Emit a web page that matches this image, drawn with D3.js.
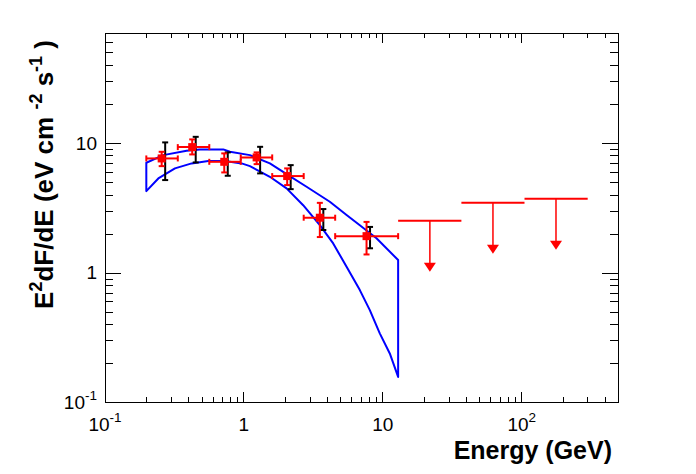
<!DOCTYPE html>
<html><head><meta charset="utf-8">
<script src="https://cdn.jsdelivr.net/npm/d3@7"></script>
<style>
body{margin:0;background:#fff;}
svg{display:block;}
text{font-family:"Liberation Sans",Arial,Helvetica,sans-serif;}
</style></head><body>
<svg id="chart" width="696" height="474"></svg>
<script>
// ---- data ----
const binLo  = [0.2, 0.337, 0.568, 0.957, 1.612, 2.717, 4.578];
const binHi  = [0.337, 0.568, 0.957, 1.612, 2.717, 4.578, 13.0];
const energy = [0.258, 0.428, 0.728, 1.245, 2.066, 3.55, 7.70];
const flux   = [7.59, 9.28, 7.15, 7.73, 5.55, 2.65, 1.91];
const statLo = [6.62, 8.15, 5.92, 6.86, 4.73, 1.88, 1.38];
const statHi = [8.54, 10.64, 8.30, 8.45, 6.36, 3.45, 2.46];
const sysLo  = [5.17, 7.07, 5.58, 5.82, 4.40, 2.13, 1.54];
const sysHi  = [10.09, 11.14, 8.45, 9.33, 6.74, 3.09, 2.25];
const ulLo     = [13.0, 37.1, 105.6];
const ulHi     = [37.1, 105.6, 301];
const ulEnergy = [22.0, 62.6, 178];
const ulFlux   = [2.51, 3.45, 3.71];
const bandUpperE = [0.2,0.265,0.390,0.486,0.716,0.800,1.114,1.551,2.101,2.849,4.19,5.53,6.89,9.08,13.0];
const bandUpperF = [7.03,8.05,8.69,8.91,8.91,8.54,8.05,6.95,5.65,4.59,3.52,2.78,2.32,1.84,1.25];
const bandLowerE = [0.2,0.244,0.3215,0.424,0.558,0.736,0.971,1.114,1.551,2.046,2.693,3.55,4.43,5.53,6.89,8.13,9.59,11.32,13.0];
const bandLowerF = [4.25,5.32,6.36,6.95,7.24,7.24,6.95,6.62,5.48,4.46,3.31,2.32,1.68,1.108,0.733,0.514,0.340,0.238,0.157];
const xTickValues = [0.1, 1, 10, 100];
const xTickLabels = ["10^-1", "1", "10", "10^2"];
const yTickValues = [0.1, 1, 10];
const yTickLabels = ["10^-1", "1", "10"];
const xMinor = [0.2,0.3,0.4,0.5,0.6,0.7,0.8,0.9,2,3,4,5,6,7,8,9,20,30,40,50,60,70,80,90,200,300,400];
const yMinor = [0.2,0.3,0.4,0.5,0.6,0.7,0.8,0.9,2,3,4,5,6,7,8,9,20,30,40,50,60];
const xTitle = "Energy (GeV)";

// ---- layout ----
const L = 104.5, R = 618.3, T = 33.3, B = 402.3;
const svg = d3.select("#chart");
const x = d3.scaleLog().domain([0.1, 500]).range([L, R]);
const y = d3.scaleLog().domain([0.1, 70]).range([B, T]);

function supLabel(sel, labels, vals) {
  sel.selectAll(".tick text").each(function(d) {
    const i = vals.indexOf(d);
    const t = d3.select(this);
    t.text(null);
    if (i < 0) return;
    const parts = labels[i].split("^");
    t.append("tspan").text(parts[0]);
    if (parts[1]) t.append("tspan").attr("font-size", "13.5px").attr("dy", "-9").text(parts[1]);
  });
}
function styleAxis(g) {
  g.selectAll("path,line").attr("stroke", "#000").attr("stroke-width", 1).attr("shape-rendering", "crispEdges");
  g.selectAll("text").attr("font-size", "19px").attr("fill", "#000").attr("font-family", '"Liberation Sans",Arial,sans-serif');
}
// bottom
const gB = svg.append("g").attr("transform", `translate(0,${B})`)
  .call(d3.axisBottom(x).tickValues(xTickValues).tickSizeInner(-10).tickSizeOuter(0).tickPadding(15.5));
styleAxis(gB); supLabel(gB, xTickLabels, xTickValues);
const gBm = svg.append("g").attr("transform", `translate(0,${B})`)
  .call(d3.axisBottom(x).tickValues(xMinor).tickSizeInner(-5).tickSizeOuter(0).tickFormat(""));
styleAxis(gBm);
// top
const gT = svg.append("g").attr("transform", `translate(0,${T})`)
  .call(d3.axisTop(x).tickValues(xTickValues).tickSizeInner(-10).tickSizeOuter(0).tickFormat(""));
styleAxis(gT);
const gTm = svg.append("g").attr("transform", `translate(0,${T})`)
  .call(d3.axisTop(x).tickValues(xMinor).tickSizeInner(-5).tickSizeOuter(0).tickFormat(""));
styleAxis(gTm);
// left
const gL = svg.append("g").attr("transform", `translate(${L},0)`)
  .call(d3.axisLeft(y).tickValues(yTickValues).tickSizeInner(-16.5).tickSizeOuter(0).tickPadding(7.5));
styleAxis(gL); supLabel(gL, yTickLabels, yTickValues);
const gLm = svg.append("g").attr("transform", `translate(${L},0)`)
  .call(d3.axisLeft(y).tickValues(yMinor).tickSizeInner(-8.5).tickSizeOuter(0).tickFormat(""));
styleAxis(gLm);
// right
const gR = svg.append("g").attr("transform", `translate(${R},0)`)
  .call(d3.axisRight(y).tickValues(yTickValues).tickSizeInner(-16.5).tickSizeOuter(0).tickFormat(""));
styleAxis(gR);
const gRm = svg.append("g").attr("transform", `translate(${R},0)`)
  .call(d3.axisRight(y).tickValues(yMinor).tickSizeInner(-8.5).tickSizeOuter(0).tickFormat(""));
styleAxis(gRm);

// ---- butterfly band ----
const bandPts = bandUpperE.map((e, i) => [e, bandUpperF[i]])
  .concat(bandLowerE.map((e, i) => [e, bandLowerF[i]]).reverse());
svg.append("path")
  .attr("d", d3.line().x(d => x(d[0])).y(d => y(d[1]))(bandPts) + "Z")
  .attr("fill", "none").attr("stroke", "#0000ff").attr("stroke-width", 2).attr("stroke-linejoin", "round");

// ---- systematic (black) error bars ----
const gSys = svg.append("g").attr("stroke", "#000").attr("stroke-width", 2);
energy.forEach((e, i) => {
  const cx = x(e) + 3.5;
  gSys.append("line").attr("x1", cx).attr("x2", cx).attr("y1", y(sysHi[i])).attr("y2", y(sysLo[i]));
  [sysHi[i], sysLo[i]].forEach(v => gSys.append("line").attr("x1", cx - 3).attr("x2", cx + 3).attr("y1", y(v)).attr("y2", y(v)));
});

// ---- statistical (red) points ----
const red = "#ff0000";
const gSt = svg.append("g").attr("stroke", red).attr("stroke-width", 2);
energy.forEach((e, i) => {
  const cx = x(e), cy = y(flux[i]);
  gSt.append("line").attr("x1", x(binLo[i])).attr("x2", x(binHi[i])).attr("y1", cy).attr("y2", cy);
  [binLo[i], binHi[i]].forEach(v => gSt.append("line").attr("x1", x(v)).attr("x2", x(v)).attr("y1", cy - 3).attr("y2", cy + 3));
  gSt.append("line").attr("x1", cx).attr("x2", cx).attr("y1", y(statHi[i])).attr("y2", y(statLo[i]));
  [statHi[i], statLo[i]].forEach(v => gSt.append("line").attr("x1", cx - 3).attr("x2", cx + 3).attr("y1", y(v)).attr("y2", y(v)));
  svg.append("rect").attr("x", cx - 4).attr("y", cy - 4).attr("width", 8).attr("height", 8).attr("fill", red);
});

// ---- upper limits ----
const gUL = svg.append("g");
ulFlux.forEach((f, i) => {
  const cy = y(f), cx = x(ulEnergy[i]);
  gUL.append("line").attr("x1", x(ulLo[i])).attr("x2", x(ulHi[i])).attr("y1", cy).attr("y2", cy)
    .attr("stroke", red).attr("stroke-width", 2);
  gUL.append("line").attr("x1", cx).attr("x2", cx).attr("y1", cy).attr("y2", cy + 43)
    .attr("stroke", red).attr("stroke-width", 1.5);
  gUL.append("path").attr("d", `M${cx - 6},${cy + 42}L${cx + 6},${cy + 42}L${cx},${cy + 51}Z`).attr("fill", red);
});

// ---- titles ----
svg.append("text").attr("x", 612).attr("y", 459).attr("text-anchor", "end")
  .attr("font-size", "25px").attr("font-weight", "bold").text(xTitle);
const yt = svg.append("text").attr("transform", "translate(53,40) rotate(-90)")
  .attr("text-anchor", "end").attr("font-size", "26px").attr("font-weight", "bold");
yt.append("tspan").text("E");
yt.append("tspan").attr("font-size", "18px").attr("dy", -11).text("2");
yt.append("tspan").attr("dy", 11).text("dF/dE (eV cm ");
yt.append("tspan").attr("font-size", "18px").attr("dy", -11).text("-2");
yt.append("tspan").attr("dy", 11).text(" s");
yt.append("tspan").attr("font-size", "18px").attr("dy", -11).text("-1");
yt.append("tspan").attr("dy", 11).text(" )");
</script>
</body></html>
